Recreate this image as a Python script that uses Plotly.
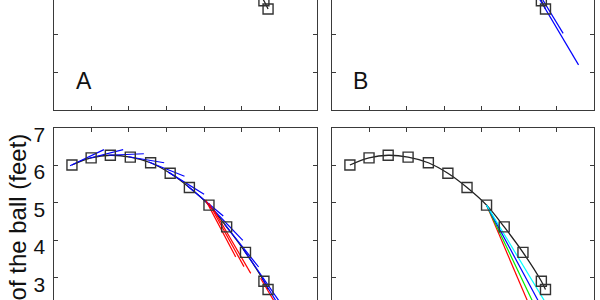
import plotly.graph_objects as go

# ---- data (x in tick units, height in feet) ----
t = [0.49, 1.00, 1.51, 2.04, 2.58, 3.10, 3.61, 4.13, 4.60, 5.10, 5.59, 5.70]
h = [6.00, 6.19, 6.26, 6.21, 6.06, 5.78, 5.40, 4.93, 4.35, 3.67, 2.90, 2.68]

# panel C: blue tangent segments
blue_x0 = [0.44, 0.95, 1.46, 1.99, 2.53, 3.05, 3.56, 4.08, 4.55, 5.05, 5.54]
blue_y0 = [5.98, 6.18, 6.26, 6.22, 6.08, 5.81, 5.44, 4.98, 4.41, 3.74, 2.98]
blue_x1 = [1.34, 1.85, 2.40, 2.94, 3.48, 4.00, 4.51, 5.03, 5.45, 6.00, 6.20]
blue_y1 = [6.41, 6.41, 6.30, 6.06, 5.70, 5.22, 4.64, 3.99, 3.28, 2.36, 1.90]
# panel C: red segments
red_x0 = [4.04, 4.13, 4.26, 5.50]
red_y0 = [5.07, 4.98, 4.80, 2.98]
red_x1 = [4.84, 5.06, 5.24, 5.93]
red_y1 = [3.55, 3.29, 3.11, 2.25]
# panel B: blue segments
bB_x0 = [5.45, 5.55]
bB_y0 = [3.10, 3.05]
bB_x1 = [6.58, 6.17]
bB_y1 = [1.19, 2.03]
# panel D: fan of predictions from the 8th sample
fan_start = 7
fan_x_end = [5.38, 5.53, 5.71, 5.90]
fan_y_end = [2.0, 2.0, 2.0, 2.0]
fan_colors = ["#ff0000", "#00ee00", "#0000ff", "#00ffff"]

xticks = [1, 2, 3, 4, 5, 6]
yticks_top = [1, 2]
yticks_bot = [3, 4, 5, 6, 7]
ytick_text = ["3", "4", "5", "6", "7"]
panel_labels = ["A", "B"]
ylabel = "Height of the ball (feet)"

W, H = 600, 300
FONT = "Liberation Sans, Arial, sans-serif"
AX = "#3a3a3a"


def fx(p):
    return p / W


def fy(p):
    return 1 - p / H


def segs(x0, y0, x1, y1):
    xs, ys = [], []
    for a, b, c, d in zip(x0, y0, x1, y1):
        xs += [a, c, None]
        ys += [b, d, None]
    return xs, ys


fig = go.Figure()
panels = {"A": ("x", "y"), "B": ("x2", "y2"), "C": ("x3", "y3"), "D": ("x4", "y4")}

for name, (xa, ya) in panels.items():
    fig.add_trace(go.Scatter(x=t, y=h, xaxis=xa, yaxis=ya, mode="lines",
                             line=dict(color="#222222", width=1.3, shape="spline"),
                             showlegend=False, hoverinfo="skip"))

bx, by = segs(blue_x0, blue_y0, blue_x1, blue_y1)
fig.add_trace(go.Scatter(x=bx, y=by, xaxis="x3", yaxis="y3", mode="lines",
                         line=dict(color="#0000ff", width=1.2), showlegend=False))
rx, ry = segs(red_x0, red_y0, red_x1, red_y1)
fig.add_trace(go.Scatter(x=rx, y=ry, xaxis="x3", yaxis="y3", mode="lines",
                         line=dict(color="#ff0000", width=1.2), showlegend=False))
bbx, bby = segs(bB_x0, bB_y0, bB_x1, bB_y1)
fig.add_trace(go.Scatter(x=bbx, y=bby, xaxis="x2", yaxis="y2", mode="lines",
                         line=dict(color="#0000ff", width=1.2), showlegend=False))
for xe, ye, c in zip(fan_x_end, fan_y_end, fan_colors):
    fig.add_trace(go.Scatter(x=[t[fan_start], xe], y=[h[fan_start], ye],
                             xaxis="x4", yaxis="y4", mode="lines",
                             line=dict(color=c, width=1.2), showlegend=False))

for name, (xa, ya) in panels.items():
    fig.add_trace(go.Scatter(x=t, y=h, xaxis=xa, yaxis=ya, mode="markers",
                             marker=dict(symbol="square-open", size=10, color="#333333",
                                         line=dict(width=1.4)),
                             showlegend=False, hoverinfo="skip"))

common = dict(showline=True, linecolor=AX, linewidth=1, ticks="inside",
              ticklen=4, tickcolor=AX, showgrid=False, zeroline=False,
              fixedrange=True, automargin=False)

xdom_left = [fx(53.5), fx(317)]
xdom_right = [fx(331.5), fx(594.3)]
ydom_top = [fy(109.5), 1.0]
ydom_bot = [0.0, fy(127.5)]

fig.update_layout(
    width=W, height=H,
    margin=dict(l=0, r=0, t=0, b=0, pad=0, autoexpand=False),
    paper_bgcolor="white", plot_bgcolor="white", showlegend=False,
    font=dict(family=FONT, color="#111111"),
    xaxis=dict(domain=xdom_left, range=[0, 7], tickvals=xticks,
               showticklabels=False, anchor="y", **common),
    yaxis=dict(domain=ydom_top, range=[0, 2.92], tickvals=yticks_top,
               showticklabels=False, mirror="ticks", anchor="x", **common),
    xaxis2=dict(domain=xdom_right, range=[0, 7], tickvals=xticks,
                showticklabels=False, anchor="y2", **common),
    yaxis2=dict(domain=ydom_top, range=[0, 2.92], tickvals=yticks_top,
                showticklabels=False, mirror="ticks", anchor="x2", **common),
    xaxis3=dict(domain=xdom_left, range=[0, 7], tickvals=xticks, side="top",
                showticklabels=False, anchor="y3", **common),
    yaxis3=dict(domain=ydom_bot, range=[2.4, 7.0], tickvals=yticks_bot,
                ticktext=ytick_text, showticklabels=True, mirror="ticks",
                anchor="x3", tickfont=dict(size=21, family=FONT, color="#111111"),
                ticklabelstandoff=3, ticklabelshift=7, **common),
    xaxis4=dict(domain=xdom_right, range=[0, 7], tickvals=xticks, side="top",
                showticklabels=False, anchor="y4", **common),
    yaxis4=dict(domain=ydom_bot, range=[2.4, 7.0], tickvals=yticks_bot,
                showticklabels=False, mirror="ticks", anchor="x4", **common),
)

for lab, xp in zip(panel_labels, [74, 351]):
    fig.add_annotation(x=fx(xp), y=fy(81), xref="paper", yref="paper",
                       text=lab, showarrow=False, xanchor="left", yanchor="middle",
                       font=dict(size=23, family=FONT, color="#111111"))

fig.add_annotation(x=fx(17), y=fy(132), xref="paper", yref="paper",
                   text=ylabel, textangle=-90, showarrow=False,
                   xanchor="center", yanchor="top",
                   font=dict(size=24, family=FONT, color="#111111"))

fig.write_html("out.html")
